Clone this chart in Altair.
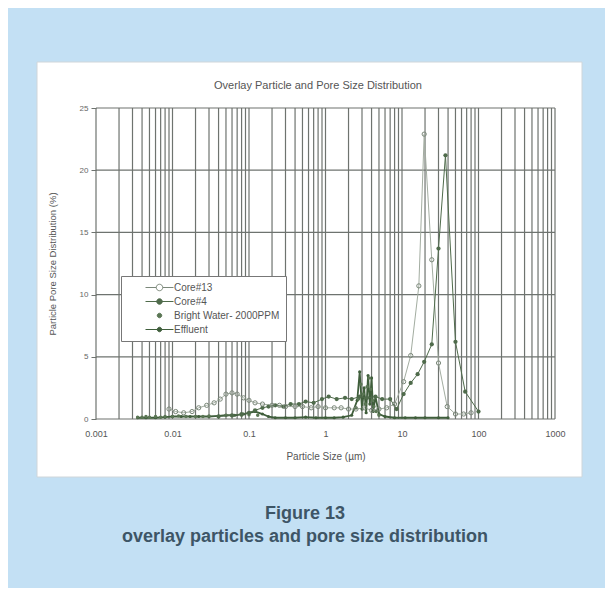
import altair as alt
import pandas as pd

# ---------------- data ----------------
series_names = ["Core#13", "Core#4", "Bright Water- 2000PPM", "Effluent"]

core13_x = [0.009, 0.011, 0.014, 0.018, 0.022, 0.028, 0.035, 0.042, 0.05, 0.06, 0.07,
            0.085, 0.1, 0.12, 0.15, 0.2, 0.25, 0.3, 0.4, 0.5, 0.65, 0.8, 1.0, 1.3, 1.6,
            2.0, 2.5, 3.2, 4.0, 5.0, 6.3, 8.0, 10.5, 13, 16.6, 19.5, 24.5, 30, 39, 50, 64, 80]
core13_y = [0.8, 0.6, 0.5, 0.6, 0.9, 1.1, 1.3, 1.6, 2.0, 2.1, 2.0,
            1.7, 1.5, 1.3, 1.2, 1.1, 1.1, 1.0, 1.0, 1.0, 0.9, 1.0, 0.9, 0.9, 0.9,
            0.8, 0.8, 0.9, 0.7, 0.8, 0.9, 1.2, 3.0, 5.1, 10.7, 22.9, 12.8, 4.5, 1.0, 0.4, 0.4, 0.5]

core4_x = [0.04, 0.06, 0.08, 0.1, 0.12, 0.15, 0.18, 0.22, 0.28, 0.35, 0.45, 0.55, 0.7,
           0.9, 1.1, 1.4, 1.8, 2.2, 2.8, 3.5, 4.5, 5.5, 7.0, 8.5, 10.5, 13, 16, 19.5,
           24.5, 30, 37, 50, 67, 100]
core4_y = [0.2, 0.3, 0.4, 0.5, 0.7, 0.9, 1.0, 1.1, 1.0, 1.2, 1.2, 1.4, 1.3,
           1.6, 1.8, 1.6, 1.7, 1.6, 1.8, 1.7, 1.8, 1.6, 1.6, 0.8, 2.0, 2.9, 3.6, 4.6,
           6.0, 13.7, 21.2, 6.2, 2.2, 0.6]

bright_x = [0.0035, 0.004, 0.0045, 0.005, 0.006, 0.007, 0.008, 0.01, 0.012, 0.015, 0.02,
            0.025, 0.03, 0.04, 0.05, 0.06, 0.08, 0.1, 0.13, 2.5, 2.7, 2.9, 3.1, 3.3, 3.5,
            3.7, 3.9, 4.1, 4.3, 4.6, 5.0]
bright_y = [0.15, 0.15, 0.2, 0.15, 0.2, 0.15, 0.2, 0.2, 0.25, 0.2, 0.2,
            0.2, 0.25, 0.2, 0.3, 0.25, 0.3, 0.35, 0.3, 0.9, 1.6, 2.8, 2.0, 1.2, 2.6,
            3.3, 2.4, 1.5, 1.0, 0.6, 0.3]

effluent_x = [0.0035, 0.0045, 0.006, 0.008, 0.01, 0.013, 0.017, 0.022, 0.03, 0.04, 0.05,
              0.065, 0.085, 0.1, 0.12, 0.15, 0.18, 0.22, 0.3, 0.4, 0.55, 0.75, 1.0, 1.3,
              1.7, 2.2, 2.6, 2.8, 3.0, 3.2, 3.4, 3.6, 3.8, 4.0, 4.2, 4.5, 5.0, 6.0, 8.0,
              11, 15, 20, 30, 40]
effluent_y = [0.1, 0.1, 0.1, 0.15, 0.2, 0.2, 0.2, 0.2, 0.2, 0.25, 0.3,
              0.3, 0.4, 0.5, 0.6, 0.4, 0.2, 0.1, 0.1, 0.1, 0.15, 0.1, 0.1, 0.1,
              0.15, 0.3, 1.5, 3.8, 0.8, 2.5, 0.5, 3.5, 1.2, 3.3, 0.6, 1.8, 0.4, 0.2, 0.1,
              0.1, 0.1, 0.1, 0.1, 0.1]

x_ticks = [0.001, 0.01, 0.1, 1, 10, 100, 1000]
y_ticks = [0, 5, 10, 15, 20, 25]
minor_multipliers = [1, 2, 3, 4, 5, 6, 7, 8, 9]
grid_x = [round(d * m, 6) for d in x_ticks[:-1] for m in minor_multipliers] + [x_ticks[-1]]

title_text = "Overlay Particle and Pore Size Distribution"
x_title = "Particle Size (µm)"
y_title = "Particle Pore Size Distribution (%)"
caption_1 = "Figure 13"
caption_2 = "overlay particles and pore size distribution"

# ---------------- styles ----------------
FONT = "Liberation Sans"
GRID = "#6e736f"
C13_LINE = "#a3ada1"
C13_PT = "#7b887a"
C4 = "#4f6b4b"
BW = "#5a7654"
EFF = "#3f5e3b"
legend_fill = ["#ffffff", C4, BW, EFF]
legend_stroke = [C13_PT, C4, BW, EFF]
legend_paths = [
    "M-2.8,0H-0.65M0.65,0H2.8M-0.65,0A0.65,0.65 0 1,0 0.65,0A0.65,0.65 0 1,0 -0.65,0Z",
    "M-2.8,0H2.8M-0.55,0A0.55,0.55 0 1,0 0.55,0A0.55,0.55 0 1,0 -0.55,0Z",
    "M-0.45,0A0.45,0.45 0 1,0 0.45,0A0.45,0.45 0 1,0 -0.45,0Z",
    "M-2.8,0H2.8M-0.45,0A0.45,0.45 0 1,0 0.45,0A0.45,0.45 0 1,0 -0.45,0Z",
]

xscale = alt.Scale(type="log", domain=[0.001, 1000], nice=False)
yscale = alt.Scale(domain=[0, 25], nice=False, zero=True)

x_axis = alt.Axis(values=x_ticks, format="~g", grid=False, domain=False, ticks=False,
                  labelFont=FONT, labelFontSize=9, labelColor="#555555", labelPadding=10,
                  labelFlush=False, title=x_title, titleFont=FONT, titleFontSize=10,
                  titleFontWeight="normal", titleColor="#555555", titlePadding=13, zindex=1)
y_axis = alt.Axis(values=y_ticks, grid=False, domain=False, ticks=True, tickSize=5,
                  tickColor=GRID, labelFont=FONT, labelFontSize=8, labelColor="#666666",
                  labelPadding=3, title=y_title, titleFont=FONT, titleFontSize=9.5,
                  titleFontWeight="normal", titleColor="#555555", titlePadding=22, zindex=1)


def xq(field):
    return alt.X(f"{field}:Q", scale=xscale, axis=x_axis)


def yq(field):
    return alt.Y(f"{field}:Q", scale=yscale, axis=y_axis)


df13 = pd.DataFrame({"um": core13_x, "pct": core13_y})
df4 = pd.DataFrame({"um": core4_x, "pct": core4_y})
dfbw = pd.DataFrame({"um": bright_x, "pct": bright_y})
dfef = pd.DataFrame({"um": effluent_x, "pct": effluent_y})
gx_df = pd.DataFrame({"um": grid_x})
gy_df = pd.DataFrame({"pct": y_ticks})
one = pd.DataFrame({"k": [0]})

box = alt.Chart(one).mark_rect(fill="white", stroke="#cfd6da", strokeWidth=1).encode(
    x=alt.value(-59), x2=alt.value(486), y=alt.value(-46), y2=alt.value(369))

vgrid = alt.Chart(gx_df).mark_rule(color=GRID, strokeWidth=1.2).encode(x=xq("um"))
hgrid = alt.Chart(gy_df).mark_rule(color=GRID, strokeWidth=1.2).encode(y=yq("pct"))

l13 = alt.Chart(df13).mark_line(color=C13_LINE, strokeWidth=1).encode(x=xq("um"), y=yq("pct"))
p13 = alt.Chart(df13).mark_point(shape="circle", size=18, color=C13_PT, filled=False,
                                 strokeWidth=1, opacity=1).encode(x=xq("um"), y=yq("pct"))
lef = alt.Chart(dfef).mark_line(color=EFF, strokeWidth=1.8).encode(x=xq("um"), y=yq("pct"))
pef = alt.Chart(dfef).mark_circle(size=10, color=EFF, opacity=1).encode(x=xq("um"), y=yq("pct"))
pbw = alt.Chart(dfbw).mark_circle(size=12, color=BW, opacity=1).encode(x=xq("um"), y=yq("pct"))
l4 = alt.Chart(df4).mark_line(color=C4, strokeWidth=1).encode(x=xq("um"), y=yq("pct"))
p4 = alt.Chart(df4).mark_circle(size=18, color=C4, opacity=1).encode(x=xq("um"), y=yq("pct"))

leg = alt.Legend(title=None, orient="none", legendX=25, legendY=168, padding=6,
                 rowPadding=3, symbolOffset=27, labelOffset=9, labelFont=FONT,
                 labelFontSize=10, labelColor="#555555", fillColor="white",
                 strokeColor="#777777", symbolStrokeWidth=1)
legend_df = pd.DataFrame({"series": series_names})
legend_layer = alt.Chart(legend_df).transform_filter("false").mark_point(
    size=64, opacity=1, strokeWidth=1).encode(
    shape=alt.Shape("series:N", scale=alt.Scale(domain=series_names, range=legend_paths), legend=leg),
    fill=alt.Fill("series:N", scale=alt.Scale(domain=series_names, range=legend_fill), legend=leg),
    stroke=alt.Stroke("series:N", scale=alt.Scale(domain=series_names, range=legend_stroke), legend=leg),
)

title_mark = alt.Chart(one).mark_text(font=FONT, fontSize=11, color="#555555",
                                      align="center", baseline="middle").encode(
    x=alt.value(222), y=alt.value(-22), text=alt.value(title_text))
cap1 = alt.Chart(one).mark_text(font=FONT, fontSize=18, fontWeight="bold", color="#3d5566",
                                align="center", baseline="middle").encode(
    x=alt.value(209), y=alt.value(406), text=alt.value(caption_1))
cap2 = alt.Chart(one).mark_text(font=FONT, fontSize=18, fontWeight="bold", color="#3d5566",
                                align="center", baseline="middle").encode(
    x=alt.value(209), y=alt.value(429), text=alt.value(caption_2))

chart = alt.layer(
    box, vgrid, hgrid, l13, lef, pef, pbw, l4, p4, p13, legend_layer, title_mark, cap1, cap2
).properties(
    width=459, height=311,
    autosize=alt.AutoSizeParams(type="none"),
    padding={"left": 88, "top": 100, "right": 50, "bottom": 169},
    background="#c3e0f4",
).configure_view(strokeWidth=0)

chart.save("out.html", embed_options={"renderer": "svg", "actions": False})
